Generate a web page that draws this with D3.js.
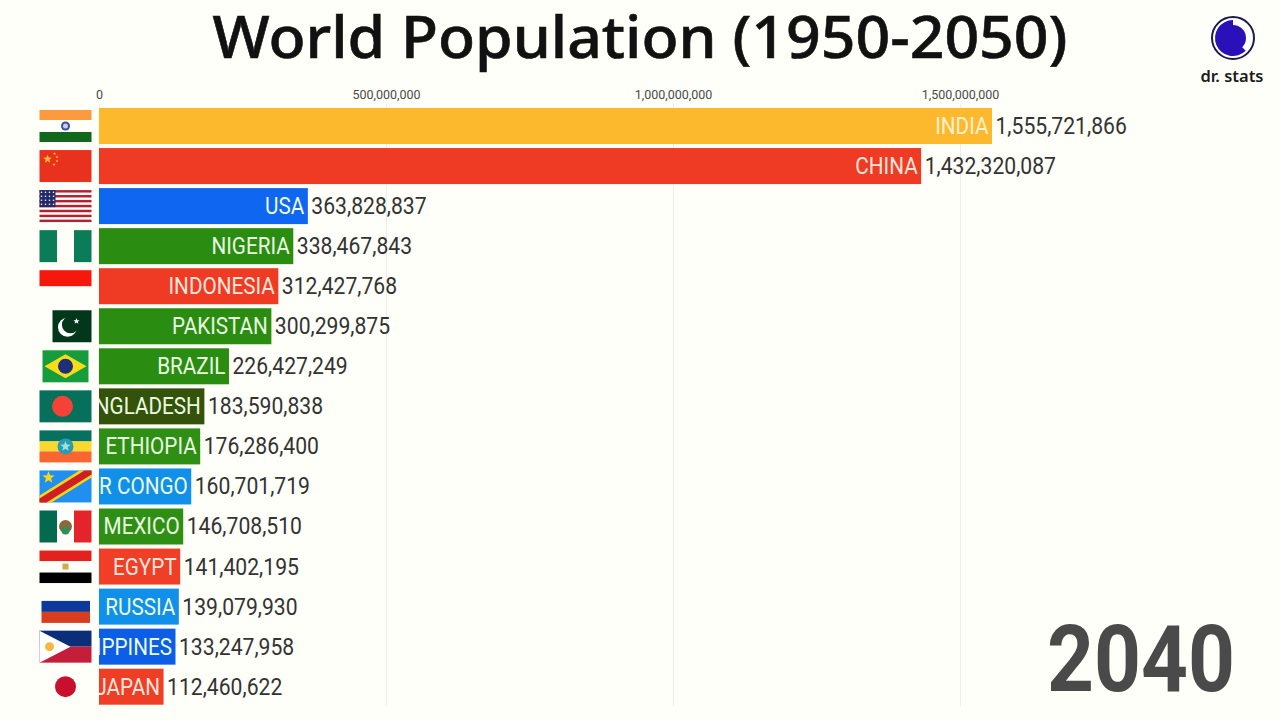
<!DOCTYPE html>
<html>
<head>
<meta charset="utf-8">
<script src="https://cdn.jsdelivr.net/npm/d3@7/dist/d3.min.js"></script>
<style>
html,body{margin:0;padding:0;background:#fffff9;width:1280px;height:720px;overflow:hidden}
svg{display:block}
text{font-family:Roboto,sans-serif}
</style>
</head>
<body>
<svg id="chart" width="1280" height="720"></svg>
<script>
const countries = ["INDIA","CHINA","USA","NIGERIA","INDONESIA","PAKISTAN","BRAZIL","BANGLADESH","ETHIOPIA","DR CONGO","MEXICO","EGYPT","RUSSIA","PHILIPPINES","JAPAN"];
const populations = [1555721866,1432320087,363828837,338467843,312427768,300299875,226427249,183590838,176286400,160701719,146708510,141402195,139079930,133247958,112460622];
const axisTicks = [0,500000000,1000000000,1500000000];
const titleText = "World Population (1950-2050)";
const yearText = "2040";
const brandText = "dr. stats";

const barColors = {INDIA:"#fdb92d",CHINA:"#ef3b24",USA:"#0f66f0",NIGERIA:"#2a8c10",INDONESIA:"#ef3b24",PAKISTAN:"#2a8c10",BRAZIL:"#2a8c10",BANGLADESH:"#345209",ETHIOPIA:"#2e8f14","DR CONGO":"#1190ea",MEXICO:"#2e8f14",EGYPT:"#ef3f26",RUSSIA:"#1190ea",PHILIPPINES:"#0c5ee6",JAPAN:"#ee3f26"};

const svg = d3.select("#chart");
const x = d3.scaleLinear().domain([0,1500000000]).range([99,960]);
const y = d3.scaleBand().domain(countries).range([108,704.7]).paddingInner(0.101).paddingOuter(0);
const barH = y.bandwidth();

// grid + axis
const axis = d3.axisTop(x).tickValues(axisTicks).tickSize(-602).tickPadding(5)
  .tickFormat(d3.format(","));
const axisG = svg.append("g").attr("transform","translate(0,104)").call(axis);
axisG.select(".domain").remove();
axisG.selectAll("line").attr("stroke","#eeeee8").attr("stroke-width",1);
axisG.selectAll("text").attr("font-size",12.5).attr("fill","#4a4a4a").style("font-family","Roboto,sans-serif");

// bars
svg.selectAll("rect.bar").data(countries).join("rect").attr("class","bar")
  .attr("x",x(0)).attr("y",c=>y(c)).attr("height",barH)
  .attr("width",(c,i)=>x(populations[i])-x(0))
  .attr("fill",c=>barColors[c]);

// name labels clipped to the plot
svg.append("clipPath").attr("id","plotClip").append("rect")
  .attr("x",x(0)).attr("y",100).attr("width",1100).attr("height",610);
const nameG = svg.append("g").attr("clip-path","url(#plotClip)");
nameG.selectAll("text").data(countries).join("text")
  .attr("transform",(c,i)=>`translate(${x(populations[i])-3.5},${y(c)+barH/2+8}) scale(0.9,1)`)
  .attr("text-anchor","end").attr("font-size",23)
  .attr("fill",c=>c==="INDIA"?"#fdf1cf":c==="CHINA"||c==="INDONESIA"||c==="EGYPT"||c==="JAPAN"?"#fde6de":"#e9fbe0")
  .text(c=>c);

// value labels
svg.selectAll("text.val").data(countries).join("text").attr("class","val")
  .attr("transform",(c,i)=>`translate(${x(populations[i])+3.5},${y(c)+barH/2+8}) scale(0.92,1)`)
  .attr("font-size",23).attr("fill","#333")
  .text((c,i)=>d3.format(",")(populations[i]));

// flags (local coordinates: 52 x 32 box)
const R=(g,x0,y0,w,h,f)=>g.append("rect").attr("x",x0).attr("y",y0).attr("width",w).attr("height",h).attr("fill",f);
function star(g,cx,cy,r,f,rot=0){
  const pts=d3.range(10).map(k=>{const a=-Math.PI/2+rot+k*Math.PI/5,q=k%2?r*0.42:r;return [cx+q*Math.cos(a),cy+q*Math.sin(a)]});
  g.append("polygon").attr("points",pts.map(p=>p.join(",")).join(" ")).attr("fill",f);
}
const C=(g,cx,cy,r,f)=>g.append("circle").attr("cx",cx).attr("cy",cy).attr("r",r).attr("fill",f);
const flagDraw = {
  INDIA:g=>{R(g,0,0,52,10,"#fb9a3e");R(g,0,22,52,10,"#12671c");C(g,26,16,4.5,"#3f4fa0");C(g,26,16,2.5,"#c9cde8");},
  CHINA:g=>{R(g,0,0,52,32,"#e8321e");star(g,8,9,4.5,"#fbc02d");star(g,15,3.5,1.6,"#fbc02d");star(g,17.5,7,1.6,"#fbc02d");star(g,17.5,11,1.6,"#fbc02d");star(g,14.5,14.5,1.6,"#fbc02d");},
  USA:g=>{d3.range(7).forEach(k=>R(g,0,k*4.92,52,2.46,"#b22234"));R(g,0,0,16,17,"#232a68");
    d3.range(4).forEach(r=>d3.range(4).forEach(c=>C(g,2+c*4,2.2+r*4,0.8,"#fff")));},
  NIGERIA:g=>{R(g,0,0,17.5,32,"#0a7c57");R(g,34.5,0,17.5,32,"#0a7c57");},
  INDONESIA:g=>{R(g,0,0,52,16,"#f5180c");},
  PAKISTAN:g=>{R(g,13,0,39,32,"#02371c");C(g,28,17,9.5,"#fff");C(g,31,14.5,8.6,"#02371c");star(g,37,11,3.2,"#fff");},
  BRAZIL:g=>{R(g,3,0,46,32,"#169c3c");g.append("polygon").attr("points","5,16 26,4 47,16 26,28").attr("fill","#f7dc17");C(g,26,16,7.5,"#1c2f78");},
  BANGLADESH:g=>{R(g,0,0,52,32,"#06705a");C(g,23,16,10.5,"#f44336");},
  ETHIOPIA:g=>{R(g,0,0,52,11,"#077060");R(g,0,11,52,10,"#fbd92c");R(g,0,21,52,11,"#fb6530");C(g,26,16,8,"#2a9bb5");star(g,26,16,5.5,"#9fe0d8");},
  "DR CONGO":g=>{R(g,0,0,52,32,"#1f8ff0");g.append("polygon").attr("points","0,25 40,0 52,0 52,7 12,32 0,32").attr("fill","#f7d618");g.append("polygon").attr("points","0,28 45,0 52,0 52,4 7,32 0,32").attr("fill","#ce1f26");star(g,9,7,6.5,"#f7d618");},
  MEXICO:g=>{R(g,0,0,17.5,32,"#046a4e");R(g,34.5,0,17.5,32,"#e3242b");C(g,26,16,6.5,"#8a6a3a");C(g,26,20,4,"#2f8f5a");},
  EGYPT:g=>{R(g,0,0,52,10.5,"#e3221f");R(g,0,22,52,10.5,"#000");R(g,23,13,6,6,"#d3a94a");},
  RUSSIA:g=>{R(g,2,0,48.5,10,"#fffff9");R(g,2,10.3,48.5,11,"#0d3a9a");R(g,2,21.3,48.5,11,"#d83d20");},
  PHILIPPINES:g=>{R(g,0,0,52,16,"#0a2f78");R(g,0,16,52,16,"#c41e3a");g.append("polygon").attr("points","0,0 31,16 0,32").attr("fill","#fff");C(g,10,16,4.5,"#f5b83d");},
  JAPAN:g=>{C(g,26,16,10.5,"#c8102e");}
};
countries.forEach(c=>{
  const g=svg.append("g").attr("transform",`translate(39.5,${y(c)+2})`);
  flagDraw[c](g);
});

// title
svg.append("text").attr("x",640).attr("y",58).attr("text-anchor","middle")
  .attr("font-size",58).attr("font-weight",500).attr("fill","#111")
  .attr("textLength",855).attr("lengthAdjust","spacingAndGlyphs")
  .style("font-family","'Noto Sans',sans-serif").attr("stroke","#111").attr("stroke-width",0.6).text(titleText);

// year
svg.append("text").attr("x",1047).attr("y",691)
  .attr("font-size",93).attr("font-weight",700).attr("fill","#4a4a4a")
  .attr("textLength",188).attr("lengthAdjust","spacingAndGlyphs").text(yearText);

// logo
const logo=svg.append("g").attr("transform","translate(1233,38)");
logo.append("circle").attr("r",21).attr("fill","#fff").attr("stroke","#1a1a50").attr("stroke-width",2);
logo.append("path").attr("d",d3.arc()({innerRadius:0,outerRadius:18,startAngle:Math.PI*0.75,endAngle:Math.PI*2}))
  .attr("fill","#2a10b8");
logo.append("path").attr("d",d3.arc()({innerRadius:0,outerRadius:13,startAngle:0,endAngle:Math.PI}))
  .attr("fill","#2a10b8");
svg.append("text").attr("x",1232).attr("y",82).attr("text-anchor","middle")
  .attr("font-size",16.5).attr("font-weight",600).attr("fill","#1a1a1a")
  .style("font-family","'Noto Sans',sans-serif").text(brandText);
</script>
</body>
</html>
